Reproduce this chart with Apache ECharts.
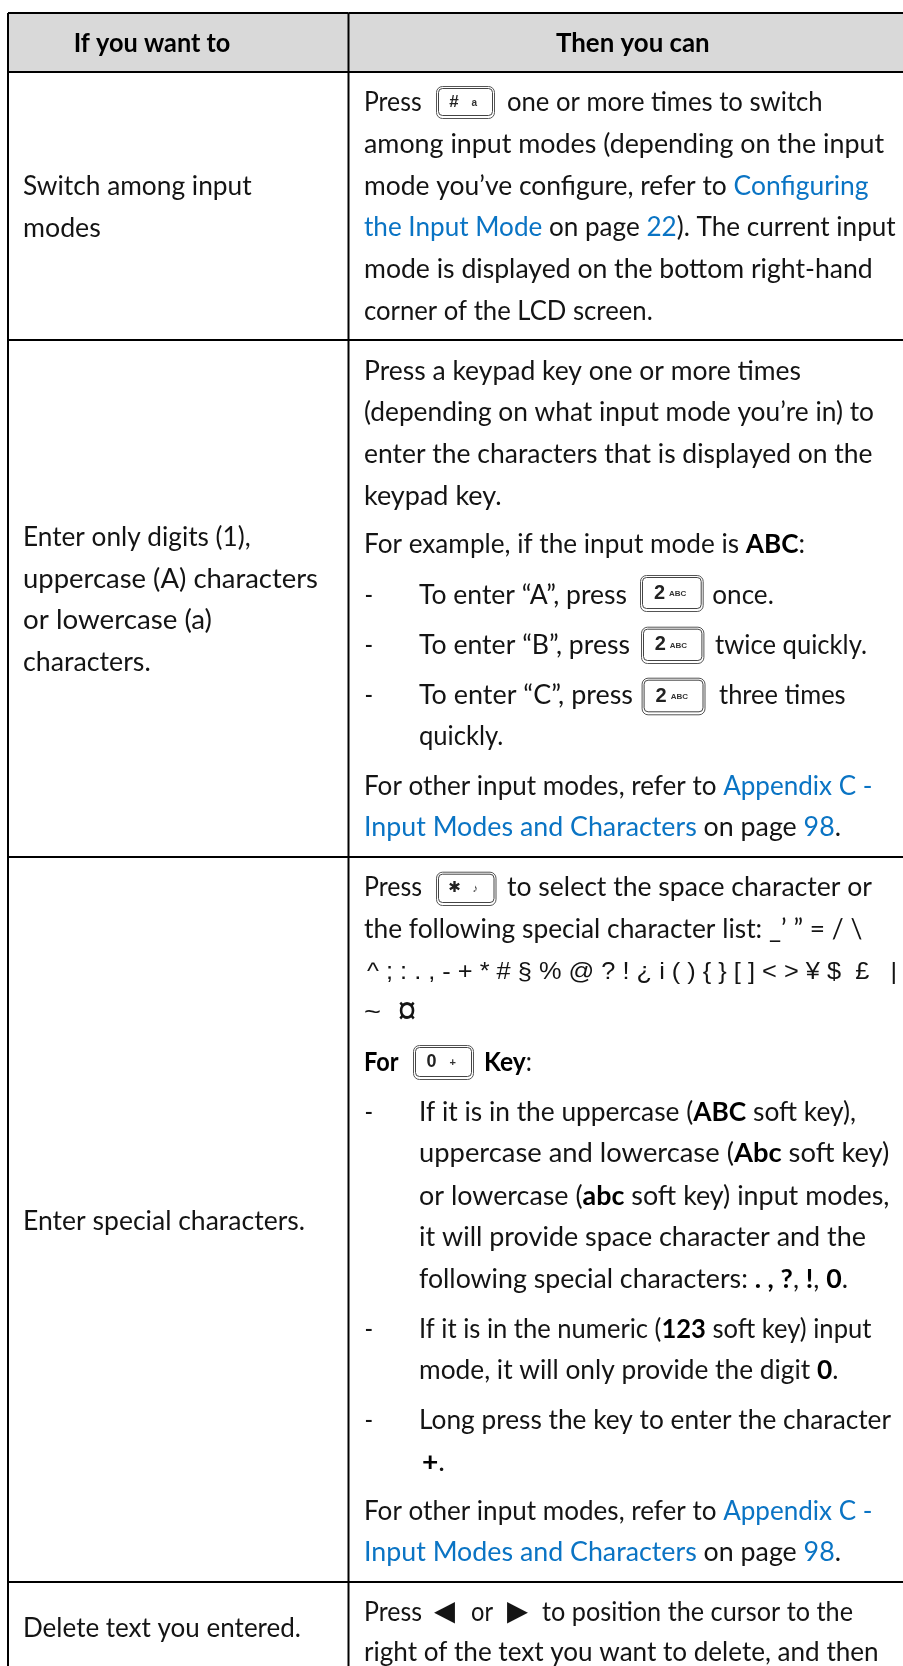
<!DOCTYPE html>
<html><head><meta charset="utf-8">
<style>html,body{margin:0;padding:0;background:#fff}#c{width:903px;height:1666px}</style>
<script src="https://cdn.jsdelivr.net/npm/echarts@6/dist/echarts.min.js"></script>
</head><body><div id="c"></div>
<script>
// ---- content ----
const headerTexts = ['If you want to', 'Then you can'];
const leftCellLines = [
  ['Switch among input'], ['modes'],
  ['Enter only digits (1),'], ['uppercase (A) characters'], ['or lowercase (a)'], ['characters.'],
  ['Enter special characters.'],
  ['Delete text you entered.']
];
const rightCellLines = [
  ['Press', 'one or more times to switch'],
  ['among input modes (depending on the input'],
  ['mode you’ve configure, refer to {l|Configuring}'],
  ['{l|the Input Mode} on page {l|22}). The current input'],
  ['mode is displayed on the bottom right-hand'],
  ['corner of the LCD screen.'],
  ['Press a keypad key one or more times'],
  ['(depending on what input mode you’re in) to'],
  ['enter the characters that is displayed on the'],
  ['keypad key.'],
  ['For example, if the input mode is {b|ABC}:'],
  ['-', 'To enter “A”, press', 'once.'],
  ['-', 'To enter “B”, press', 'twice quickly.'],
  ['-', 'To enter “C”, press', 'three times'],
  ['quickly.'],
  ['For other input modes, refer to {l|Appendix C -}'],
  ['{l|Input Modes and Characters} on page {l|98}.'],
  ['Press', 'to select the space character or'],
  ['the following special character list: _’ ” = / \\'],
  ['^ ; : . , - + * # § % @ ? ! ¿ i ( ) { } [ ] < > ¥ $  £   |'],
  ['~', '¤'],
  ['{b|For}', '{b|Key}:'],
  ['-', 'If it is in the uppercase ({b|ABC} soft key),'],
  ['uppercase and lowercase ({b|Abc} soft key)'],
  ['or lowercase ({b|abc} soft key) input modes,'],
  ['it will provide space character and the'],
  ['following special characters: {b|. ,} {b|?}, {b|!}, {b|0}.'],
  ['-', 'If it is in the numeric ({b|123} soft key) input'],
  ['mode, it will only provide the digit {b|0}.'],
  ['-', 'Long press the key to enter the character'],
  ['{b|+}.'],
  ['For other input modes, refer to {l|Appendix C -}'],
  ['{l|Input Modes and Characters} on page {l|98}.'],
  ['Press', '◀', 'or', '▶', 'to position the cursor to the'],
  ['right of the text you want to delete, and then']
];
const keyMainLabels = ['#', '2', '2', '2', '✱', '0'];
const keySubLabels = ['a', 'ABC', 'ABC', 'ABC', '♪', '+'];

// ---- layout (page pixels) ----
const columnEdges = [8, 348.5, 903];
const rowEdges = [13, 72, 340, 857, 1582, 1666];
const headerLayout = [{ y: 44, spans: [[73.7, 230.4]] }, { y: 44, spans: [[556, 709.7]] }];
const leftLayout = [
  { y: 187, spans: [[23, 251.7]] }, { y: 229, spans: [[23, 100.8]] },
  { y: 538, spans: [[23, 250.7]] }, { y: 580, spans: [[23, 318]] }, { y: 621, spans: [[23, 212]] }, { y: 663, spans: [[23, 150.7]] },
  { y: 1222, spans: [[23, 305]] },
  { y: 1629, spans: [[23, 301]] }
];
const dash = [364.4, 373];
const rightLayout = [
  { y: 103, spans: [[364, 421.6], [507, 822.6]] },
  { y: 145, spans: [[364, 884]] },
  { y: 187, spans: [[364, 868.6]] },
  { y: 228, spans: [[364, 895.7]] },
  { y: 270, spans: [[364, 872.7]] },
  { y: 312, spans: [[364, 652.7]] },
  { y: 372, spans: [[364, 801]] },
  { y: 413, spans: [[364, 874]] },
  { y: 455, spans: [[364, 872.5]] },
  { y: 497, spans: [[364, 501.6]] },
  { y: 545, spans: [[364, 805]] },
  { y: 596, spans: [dash, [419, 627], [712.3, 773.8]] },
  { y: 646, spans: [dash, [419, 630], [715, 867]] },
  { y: 696, spans: [dash, [419, 633], [719, 845.6]] },
  { y: 737, spans: [[419, 503.4]] },
  { y: 787, spans: [[364, 872.5]] },
  { y: 828, spans: [[364, 841]] },
  { y: 888, spans: [[364, 422], [507, 872]] },
  { y: 930, spans: [[364, 862.4]] },
  { y: 972, spans: [[367, 897]] },
  { y: 1013, spans: [[364, 381], [397.5, 416.5]] },
  { y: 1063, spans: [[364, 398.5], [484, 532]] },
  { y: 1113, spans: [dash, [419, 856]] },
  { y: 1154, spans: [[419, 889.4]] },
  { y: 1197, spans: [[419, 889.4]] },
  { y: 1238, spans: [[419, 866]] },
  { y: 1280, spans: [[419, 848]] },
  { y: 1330, spans: [dash, [419, 871.4]] },
  { y: 1371, spans: [[419, 838.4]] },
  { y: 1421, spans: [dash, [419, 891]] },
  { y: 1463, spans: [[422, 445]] },
  { y: 1512, spans: [[364, 872.5]] },
  { y: 1553, spans: [[364, 841]] },
  { y: 1613, spans: [[364, 422], [434, 455], [471, 493], [507, 528], [542, 853]] },
  { y: 1653, spans: [[364, 878.6]] }
];
const keyBoxes = [
  [436, 494, 86, 118], [640, 702.7, 575, 611], [641, 703.4, 626.7, 663],
  [641.6, 704.5, 677.7, 714.3], [436, 495.5, 871.7, 905], [413, 473, 1045, 1079]
];
const keyMainSizes = [17, 20, 20, 20, 15, 18];
const keySubSizes = [10, 8, 8, 8, 11, 11];

// ---- styles ----
const FAMILY = 'Lato, "Noto Sans", sans-serif';
const SIZE = 26;
const INK = '#141414', LINK = '#0a74c4';
const fonts = {
  n: `${SIZE}px ${FAMILY}`,
  l: `${SIZE}px ${FAMILY}`,
  b: `bold ${SIZE}px ${FAMILY}`,
  s: `24px "Liberation Sans", "DejaVu Sans", sans-serif`,
  c: `38px "Liberation Sans", "DejaVu Sans", sans-serif`,
  a: `28px "DejaVu Sans", sans-serif`
};
const rich = {
  l: { font: fonts.l, fill: LINK },
  b: { font: fonts.b, fill: '#000' }
};
function baseFontOf(t, fallback) {
  if (t.startsWith('^') || t === '~') return fonts.s;
  if (t === '¤') return fonts.c;
  if (t === '◀' || t === '▶') return fonts.a;
  return fallback;
}
const cv = document.createElement('canvas').getContext('2d');
function naturalWidth(markup, base) {
  let w = 0, last = 0, m;
  const re = /\{([a-zA-Z0-9_]+)\|([^}]*)\}/g;
  while ((m = re.exec(markup))) {
    cv.font = base; w += cv.measureText(markup.slice(last, m.index)).width;
    cv.font = fonts[m[1]]; w += cv.measureText(m[2]).width;
    last = m.index + m[0].length;
  }
  cv.font = base; w += cv.measureText(markup.slice(last)).width;
  return w;
}

const textItems = [];
function addLines(lines, layout, base) {
  lines.forEach((pieces, i) => pieces.forEach((t, j) => {
    textItems.push({ t, base: baseFontOf(t, base), y: layout[i].y, x0: layout[i].spans[j][0], x1: layout[i].spans[j][1] });
  }));
}
addLines(headerTexts.map(h => [h]), headerLayout, fonts.b);
addLines(leftCellLines, leftLayout, fonts.n);
addLines(rightCellLines, rightLayout, fonts.n);

const cellData = [];
for (let r = 0; r < rowEdges.length - 1; r++) for (let c = 0; c < columnEdges.length - 1; c++)
  cellData.push([columnEdges[c], columnEdges[c + 1], rowEdges[r], rowEdges[r + 1], r]);

const chart = echarts.init(document.getElementById('c'), null, { renderer: 'canvas' });
chart.setOption({
  animation: false,
  backgroundColor: '#fff',
  grid: { left: 0, right: 0, top: 0, bottom: 0 },
  xAxis: { type: 'value', min: 0, max: 903, show: false },
  yAxis: { type: 'value', min: 0, max: 1666, inverse: true, show: false },
  series: [
    { // table cells
      type: 'custom', coordinateSystem: 'cartesian2d', silent: true, clip: false,
      data: cellData,
      encode: { x: [0, 1], y: [2, 3] },
      renderItem(p, api) {
        const a = api.coord([api.value(0), api.value(2)]), b = api.coord([api.value(1), api.value(3)]);
        const last = api.value(3) === rowEdges[rowEdges.length - 1];
        const L = { stroke: '#000', lineWidth: 2 };
        const kids = [
          { type: 'rect', shape: { x: a[0], y: a[1], width: b[0] - a[0], height: b[1] - a[1] },
            style: { fill: api.value(4) === 0 ? '#d9d9d9' : '#fff' } },
          { type: 'line', shape: { x1: a[0], y1: a[1], x2: b[0], y2: a[1] }, style: L },
          { type: 'line', shape: { x1: a[0], y1: a[1], x2: a[0], y2: b[1] }, style: L }
        ];
        if (!last) kids.push({ type: 'line', shape: { x1: a[0], y1: b[1], x2: b[0], y2: b[1] }, style: L });
        return { type: 'group', children: kids };
      }
    },
    { // key caps
      type: 'custom', coordinateSystem: 'cartesian2d', silent: true, clip: false,
      data: keyBoxes,
      encode: { x: [0, 1], y: [2, 3] },
      renderItem(p, api) {
        const i = p.dataIndex;
        const a = api.coord([api.value(0), api.value(2)]), b = api.coord([api.value(1), api.value(3)]);
        const w = b[0] - a[0], h = b[1] - a[1], my = (a[1] + b[1]) / 2;
        const sub = keySubLabels[i];
        return { type: 'group', children: [
          { type: 'rect', shape: { x: a[0] + .5, y: a[1] + .5, width: w, height: h, r: 6 }, style: { fill: '#fff', stroke: '#555', lineWidth: 1 } },
          { type: 'rect', shape: { x: a[0] + 2.5, y: a[1] + 2.5, width: w - 4, height: h - 5, r: 4 }, style: { fill: '#fff', stroke: '#444', lineWidth: 1 } },
          { type: 'text', x: a[0] + w * .31, y: my, style: { text: keyMainLabels[i], font: `bold ${keyMainSizes[i]}px "Liberation Sans", "DejaVu Sans", sans-serif`, fill: '#222', align: 'center', verticalAlign: 'middle' } },
          { type: 'text', x: a[0] + w * (sub.length > 1 ? .6 : .66), y: my + 1, style: { text: sub, font: `bold ${keySubSizes[i]}px "Liberation Sans", "DejaVu Sans", sans-serif`, fill: '#333', align: 'center', verticalAlign: 'middle' } }
        ] };
      }
    },
    { // text
      type: 'custom', coordinateSystem: 'cartesian2d', silent: true, clip: false,
      data: textItems.map(d => [d.x0, d.y]),
      encode: { x: 0, y: 1 },
      renderItem(p, api) {
        const d = textItems[p.dataIndex];
        const c = api.coord([api.value(0), api.value(1)]);
        const nat = naturalWidth(d.t, d.base);
        return { type: 'text', x: c[0], y: c[1], scaleX: (d.x1 - d.x0) / nat, scaleY: 1,
          style: { text: d.t, font: d.base, fill: d.base === fonts.b ? '#000' : INK, rich, align: 'left', verticalAlign: 'middle' } };
      }
    }
  ]
});
</script></body></html>
